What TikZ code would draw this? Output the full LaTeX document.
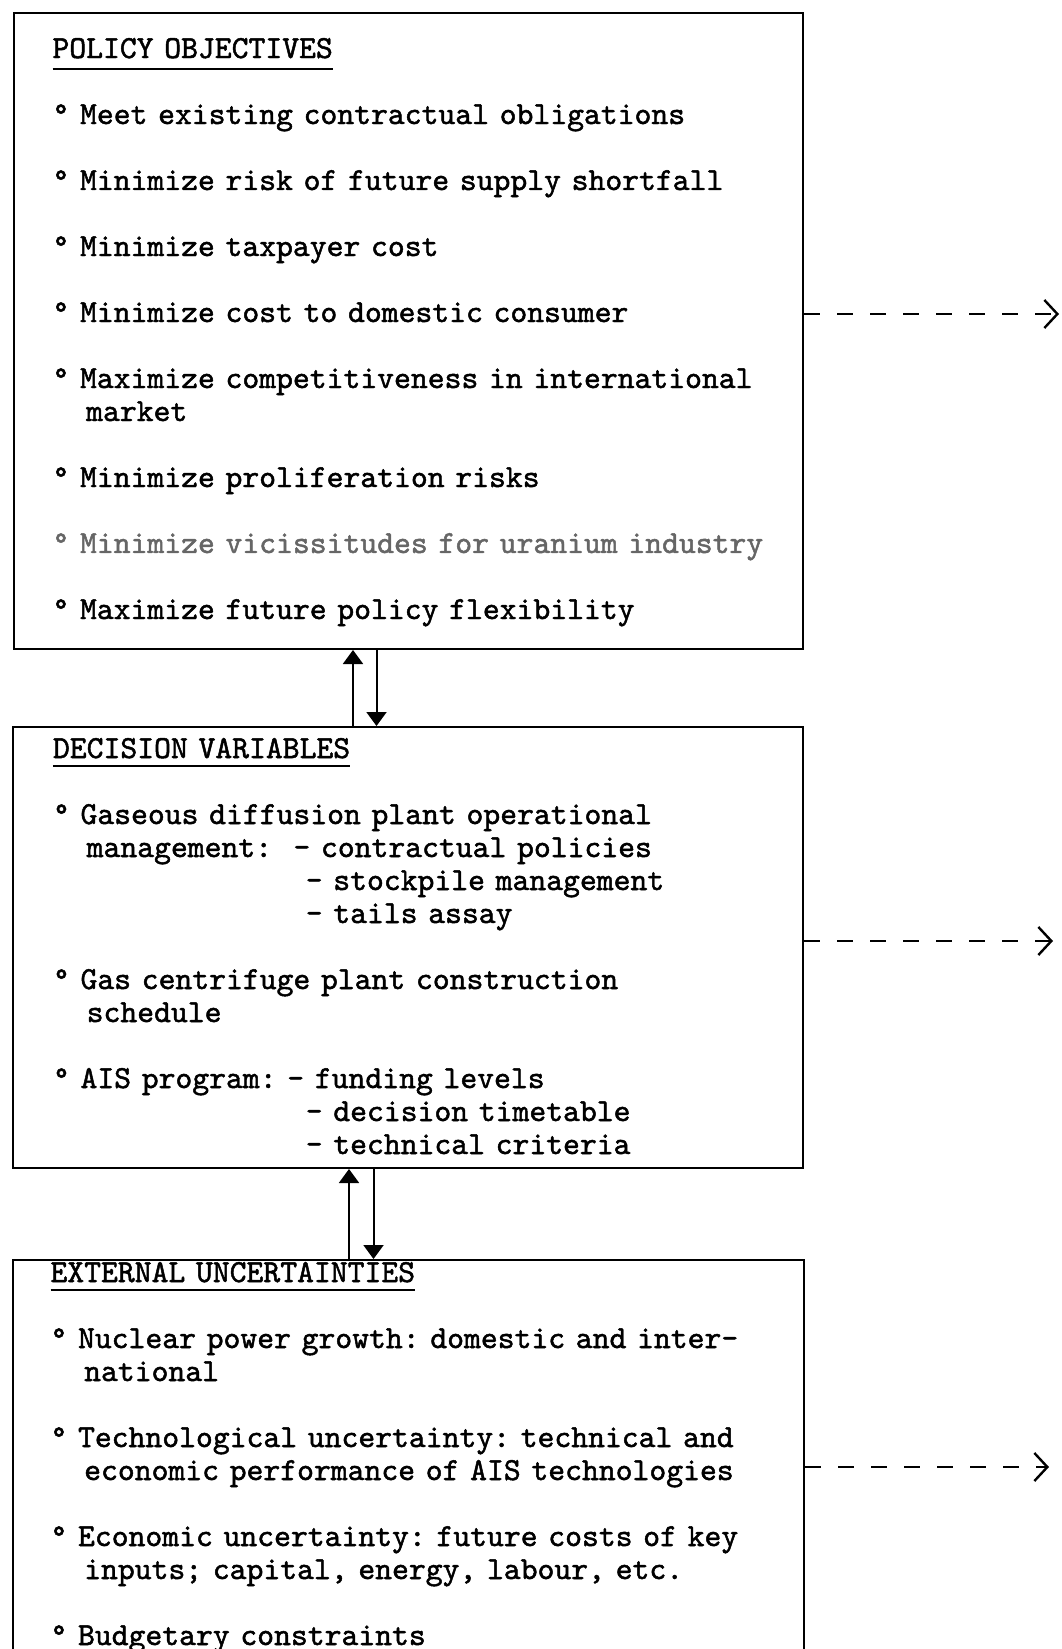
\documentclass[tikz,border=0pt]{standalone}
\usepackage{fontspec}
\setmonofont[FakeBold=1.5]{lmmono10-regular.otf}
\usetikzlibrary{arrows.meta, positioning}

\newlength{\blank}
\setlength{\blank}{16.5pt}
\newsavebox{\headbox}
\newcommand{\topline}[1]{\rule{0pt}{#1}}
\newcommand{\botline}[1]{\rule[-#1]{0pt}{0pt}}
\newcommand{\pad}[1]{\hspace*{#1\fontcharwd\font`\M\relax}}
\newcommand{\ulhead}[2][4pt]{\sbox{\headbox}{#2}\rlap{\rule[-#1]{\wd\headbox}{0.9pt}}\usebox{\headbox}}

\begin{document}
\begin{tikzpicture}[
        node distance=38pt,
        box/.style={rectangle, draw, line width=1pt, inner ysep=0pt, align=left,
            font=\ttfamily\fontsize{16.05pt}{16.5pt}\selectfont\frenchspacing},
        updown/.style={-{Triangle[length=7pt, width=10pt]}, line width=1pt},
        feed/.style={-{Straight Barb[length=6.5pt, width=14pt]}, line width=1.2pt, dash pattern=on 8pt off 8.5pt}
    ]
        \useasboundingbox (0,0) rectangle (530.5pt,-824.5pt);
        \node[box, anchor=north west, text width=356pt, inner xsep=19.25pt] (policy) at (6.5pt,-6pt) {%
            \topline{22.5pt}\ulhead[5.9pt]{POLICY OBJECTIVES}\\[\blank]
            °~Meet existing contractual obligations\\[\blank]
            °~Minimize risk of future supply shortfall\\[\blank]
            °~Minimize taxpayer cost\\[\blank]
            °~Minimize cost to domestic consumer\\[\blank]
            °~Maximize competitiveness in international\\
            \pad{2}market\\[\blank]
            °~Minimize proliferation risks\\[\blank]
            \mbox{\color{black!60}°~Minimize vicissitudes for uranium industry}\\[\blank]
            °~Maximize future policy flexibility\botline{15pt}};
        \node[box, below=38pt of policy.south west, anchor=north west, xshift=-0.5pt, text width=355pt, inner xsep=20pt] (decision) {%
            \topline{15.5pt}\ulhead[4.4pt]{DECISION VARIABLES}\\[\blank]
            °~Gaseous diffusion plant operational\\
            \pad{2}management:~~-~contractual policies\\
            \pad{15}-~stockpile management\\
            \pad{15}-~tails assay\\[\blank]
            °~Gas centrifuge plant construction\\
            \pad{2}schedule\\[\blank]
            °~AIS program:~-~funding levels\\
            \pad{15}-~decision timetable\\
            \pad{15}-~technical criteria\botline{7pt}};
        \node[box, below=45pt of decision.south west, anchor=north west, text width=358pt, inner xsep=18.75pt] (external) {%
            \topline{11pt}\ulhead[4.4pt]{EXTERNAL UNCERTAINTIES}\\[\blank]
            °~Nuclear power growth: domestic and inter-\\
            \pad{2}national\\[\blank]
            °~Technological uncertainty: technical and\\
            \pad{2}economic performance of AIS technologies\\[\blank]
            °~Economic uncertainty: future costs of key\\
            \pad{2}inputs; capital, energy, labour, etc.\\[\blank]
            °~Budgetary constraints\botline{7.5pt}};

        % links between the boxes
        \draw[updown] ([xshift=-27.5pt]decision.north) -- ([xshift=-27.5pt]decision.north |- policy.south);
        \draw[updown] ([xshift=-16pt]policy.south) -- ([xshift=-16pt]policy.south |- decision.north);
        \draw[updown] ([xshift=-29.75pt]external.north) -- ([xshift=-29.75pt]external.north |- decision.south);
        \draw[updown] ([xshift=-17.25pt]decision.south) -- ([xshift=-17.25pt]decision.south |- external.north);

        % outputs to the right
        \coordinate (policyout) at ([shift={(127.5pt,-151pt)}]policy.north east);
        \coordinate (decisionout) at ([shift={(124.5pt,-107.5pt)}]decision.north east);
        \coordinate (externalout) at ([shift={(122pt,-104pt)}]external.north east);
        \draw[feed] (policyout -| policy.east) -- (policyout);
        \draw[feed] (decisionout -| decision.east) -- (decisionout);
        \draw[feed] (externalout -| external.east) -- (externalout);
\end{tikzpicture}
\end{document}
